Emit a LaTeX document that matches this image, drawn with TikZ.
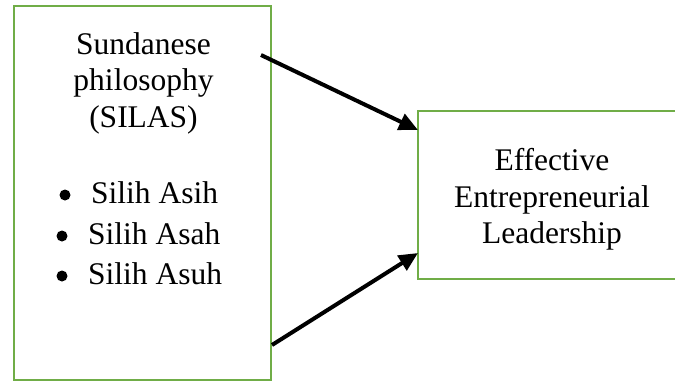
\documentclass[tikz,border=0pt]{standalone}
\usepackage{fontspec}
\setmainfont{Liberation Serif}
\usetikzlibrary{arrows.meta,positioning}
\definecolor{boxgreen}{RGB}{112,173,71}

\begin{document}
\begin{tikzpicture}[x=1pt,y=-1pt]

    \tikzstyle{box}=[draw=boxgreen,line width=2.2pt,outer sep=0pt,inner sep=0pt,anchor=north west]
    \tikzstyle{txt}=[font=\fontsize{31.5}{36}\selectfont,inner sep=0pt,anchor=base]
    \tikzstyle{link}=[line width=4pt,-{Triangle[length=19pt,width=17pt]}]

    \path[use as bounding box] (0,0) rectangle (675,381);

    \node (silas) [box,minimum width=257pt,minimum height=374pt] at (14,6) {};
    \node (eel) [box,minimum width=290pt,minimum height=168pt] at (418,111) {};

    % left box text
    \node (t1) [txt] at (143.5,54) {Sundanese};
    \node (t2) [txt] at (143.5,90) {philosophy};
    \node (t3) [txt] at (143.5,127) {(SILAS)};

    \node (b1) [txt,anchor=base west] at (91,203) {Silih Asih};
    \node (b2) [txt,anchor=base west] at (88,244) {Silih Asah};
    \node (b3) [txt,anchor=base west] at (88,284) {Silih Asuh};
    \foreach \n in {b1,b2,b3}
        \fill ([xshift=-26pt,yshift=8pt]\n.base west) circle (5.5pt);

    % right box text
    \node (e1) [txt] at (552,170) {Effective};
    \node (e2) [txt] at (552,207) {Entrepreneurial};
    \node (e3) [txt] at (552,243) {Leadership};

    \coordinate (s1) at (261,55);
    \coordinate (s2) at (272,345);

    \draw [link] (s1) -- ([yshift=-19pt]eel.north west);
    \draw [link] (s2) -- ([yshift=26pt]eel.south west);

\end{tikzpicture}
\end{document}
